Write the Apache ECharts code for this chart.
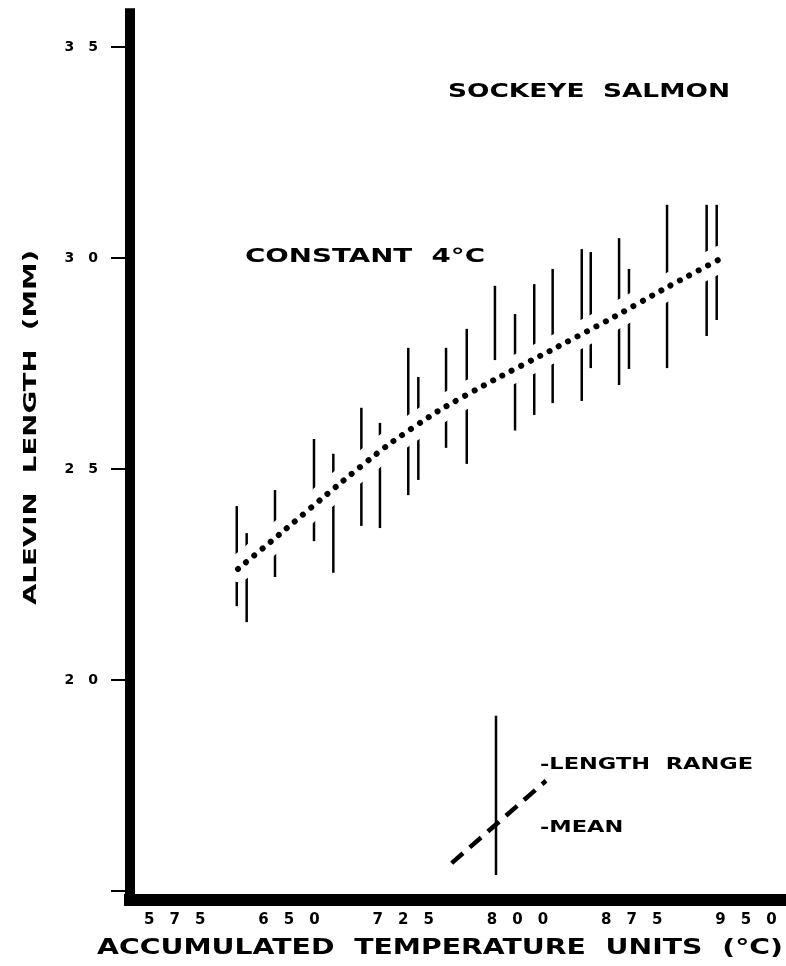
<!DOCTYPE html>
<html>
<head>
<meta charset="utf-8">
<script src="https://cdn.jsdelivr.net/npm/echarts@6/dist/echarts.min.js"></script>
<style>
  html, body { margin: 0; padding: 0; background: #fff; }
  #chart { width: 786px; height: 966px; }
</style>
</head>
<body>
<div id="chart"></div>
<script>
// length range bars: x = accumulated temperature units, low / high = alevin length (mm)
const rangeX = [615.7, 622.2, 640.8, 666.4, 679.1, 697.5, 709.7, 728.3, 734.9, 753.1, 766.7,
  785.2, 798.4, 811.0, 823.1, 842.2, 848.1, 866.7, 873.2, 898.2, 924.2, 930.8]
const rangeLow = [21.75, 21.37, 22.44, 23.29, 22.54, 23.65, 23.60, 24.38, 24.74, 25.50, 25.12,
  27.58, 25.91, 26.28, 26.56, 26.61, 27.39, 26.99, 27.37, 27.39, 28.15, 28.53]
const rangeHigh = [24.12, 23.48, 24.50, 25.71, 25.36, 26.45, 26.09, 27.87, 27.18, 27.87, 28.32,
  29.34, 28.67, 29.38, 29.74, 30.21, 30.14, 30.47, 29.74, 31.26, 31.26, 31.26]

// mean length curve
const meanX = [616.5, 643.4, 682.2, 714.3, 747.8, 784.6, 821.4, 860.7, 897.5, 934.3]
const meanY = [22.63, 23.44, 24.62, 25.55, 26.37, 27.11, 27.80, 28.55, 29.29, 30.00]

// axis ticks
const xTicks = [575, 650, 725, 800, 875, 950]
const yTicks = [15, 20, 25, 30, 35]
const yLabels = [20, 25, 30, 35]

// key in lower right
const keyRangeX = [785.9, 785.9]
const keyRangeY = [15.38, 19.15]
const keyMeanX = [756.8, 818.7]
const keyMeanY = [15.66, 17.61]

const FONT = '"DejaVu Sans", "Liberation Sans", sans-serif'

const measureCtx = document.createElement('canvas').getContext('2d')
const textWidth = (text, size) => {
  measureCtx.font = `bold ${size}px ${FONT}`
  return measureCtx.measureText(text).width
}

// stretched lettering, like the old stencil text
const lettering = (text, x, y, size, scaleX, rotation) => ({
  type: 'text',
  x, y,
  rotation: rotation || 0,
  scaleX,
  silent: true,
  style: {
    text,
    fill: '#000',
    font: `bold ${size}px ${FONT}`,
    textAlign: 'left',
    textVerticalAlign: 'middle',
    align: 'left',
    verticalAlign: 'middle'
  }
})

const spaced = v => String(v).split('').join('\u2003')

const meanData = meanX.map((x, i) => [x, meanY[i]])
const rangeData = rangeX.map((x, i) => [x, rangeLow[i], rangeHigh[i]])

const keyLabelScale = 213 / textWidth('-LENGTH  RANGE', 15)

const option = {
  backgroundColor: '#fff',
  animation: false,
  grid: { left: 130, right: 0, top: 13.2, bottom: 66.6, outerBoundsMode: 'none' },
  xAxis: {
    type: 'value',
    min: 545.6,
    max: 976.3,
    axisLine: { show: true, lineStyle: { color: '#000', width: 12, cap: 'square' } },
    axisTick: { show: false },
    splitLine: { show: false },
    axisLabel: {
      customValues: xTicks,
      formatter: spaced,
      color: '#000',
      fontFamily: FONT,
      fontWeight: 'bold',
      fontSize: 15,
      margin: 13
    }
  },
  yAxis: {
    type: 'value',
    min: 14.8,
    max: 35.8,
    axisLine: { show: true, lineStyle: { color: '#000', width: 10, cap: 'square' } },
    axisTick: { show: true, customValues: yTicks, length: 19, lineStyle: { color: '#000', width: 2 } },
    splitLine: { show: false },
    axisLabel: {
      customValues: yLabels,
      formatter: spaced,
      color: '#000',
      fontFamily: FONT,
      fontWeight: 'bold',
      fontSize: 14,
      margin: 32
    }
  },
  series: [
    {
      name: 'Length range',
      type: 'custom',
      data: rangeData,
      encode: { x: 0, y: [1, 2] },
      z: 2,
      renderItem: (params, api) => {
        const lo = api.coord([api.value(0), api.value(1)])
        const hi = api.coord([api.value(0), api.value(2)])
        return {
          type: 'line',
          shape: { x1: lo[0], y1: lo[1], x2: hi[0], y2: hi[1] },
          style: { stroke: '#000', lineWidth: 2.5 }
        }
      }
    },
    {
      // white halo so the range bars break around the mean dots
      name: 'halo',
      type: 'line',
      data: meanData,
      smooth: 0.2,
      symbol: 'none',
      silent: true,
      z: 3,
      lineStyle: { color: '#fff', width: 26, cap: 'round' }
    },
    {
      name: 'Mean',
      type: 'line',
      data: meanData,
      smooth: 0.2,
      symbol: 'none',
      z: 4,
      lineStyle: { color: '#000', width: 6, type: [0.1, 10.5], cap: 'round' }
    },
    {
      name: 'key range',
      type: 'line',
      data: keyRangeX.map((x, i) => [x, keyRangeY[i]]),
      symbol: 'none',
      z: 4,
      lineStyle: { color: '#000', width: 2.5 }
    },
    {
      name: 'key mean',
      type: 'line',
      data: keyMeanX.map((x, i) => [x, keyMeanY[i]]),
      symbol: 'none',
      z: 4,
      lineStyle: { color: '#000', width: 4.5, type: [15, 9] }
    }
  ],
  graphic: [
    lettering('SOCKEYE  SALMON', 448, 92, 19, 282 / textWidth('SOCKEYE  SALMON', 19)),
    lettering('CONSTANT  4°C', 245, 257, 20, 240 / textWidth('CONSTANT  4°C', 20)),
    lettering('ACCUMULATED  TEMPERATURE  UNITS  (°C)', 97, 948, 22,
      686 / textWidth('ACCUMULATED  TEMPERATURE  UNITS  (°C)', 22)),
    lettering('ALEVIN  LENGTH  (MM)', 32, 605, 17, 355 / textWidth('ALEVIN  LENGTH  (MM)', 17), Math.PI / 2),
    lettering('-LENGTH  RANGE', 540, 765, 15, keyLabelScale),
    lettering('-MEAN', 540, 828, 15, keyLabelScale)
  ]
}

const chart = echarts.init(document.getElementById('chart'))
chart.setOption(option)
window.addEventListener('resize', () => chart.resize())
</script>
</body>
</html>
